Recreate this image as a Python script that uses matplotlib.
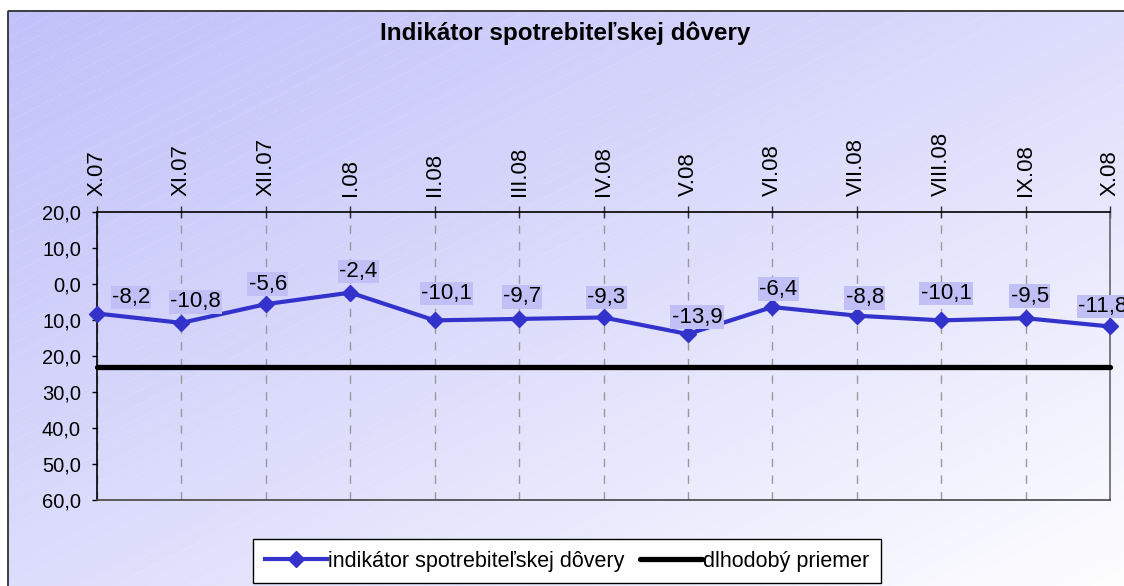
import numpy as np
import matplotlib
matplotlib.use("Agg")
import matplotlib.pyplot as plt
from matplotlib.patches import Rectangle
from matplotlib.lines import Line2D

plt.rcParams['font.family'] = ['Liberation Sans', 'DejaVu Sans']

# ---- data ----
months = ["X.07", "XI.07", "XII.07", "I.08", "II.08", "III.08", "IV.08",
          "V.08", "VI.08", "VII.08", "VIII.08", "IX.08", "X.08"]
indicator = [-8.2, -10.8, -5.6, -2.4, -10.1, -9.7, -9.3, -13.9, -6.4, -8.8, -10.1, -9.5, -11.8]
long_term_avg = -23.0
title = "Indikátor spotrebiteľskej dôvery"
series_label = "indikátor spotrebiteľskej dôvery"
avg_label = "dlhodobý priemer"

# label offsets (pixels) for data labels, layout only
lab_dx = [34, 14, 2, 8, 12, 3, 3, 9, 6, 8, 5, 4, -7]
lab_dy = [16, 21, 20, 21, 27, 22, 20, 17, 18, 18, 27, 22, 20]

W, H = 1124, 586
fig = plt.figure(figsize=(W / 100, H / 100), dpi=100)
fig.patch.set_facecolor('white')

# ---- background gradient with diagonal stripes ----
bg = fig.add_axes([7 / W, 0, 1 - 7 / W, 1 - 10 / H])
bg.axis('off')
gx, gy = np.meshgrid(np.linspace(0, 1, 300), np.linspace(0, 1, 160))
t = np.clip((gx * 0.5 + gy * 0.5), 0, 1) ** 1.15
c0 = np.array([194, 194, 250]) / 255
c1 = np.array([254, 254, 255]) / 255
img = c0[None, None, :] * (1 - t[..., None]) + c1[None, None, :] * t[..., None]
bg.imshow(img, extent=[0, W - 7, H - 10, 0], aspect='auto', zorder=0, interpolation='bilinear')
slope = np.tan(np.radians(27))
for c in np.arange(-W * slope, H + 20, 14):
    xs = np.array([0, W])
    ys = c - xs * slope + W * slope
    bg.plot(xs, ys, color='white', lw=0.5, ls=(0, (4, 3)), alpha=0.22, zorder=1)
bg.set_xlim(0, W - 7)
bg.set_ylim(H - 10, 0)
bg.add_patch(Rectangle((0.5, 0.5), W + 50, H + 50, fill=False, ec='#333333', lw=1.3, zorder=2))

# ---- main axes ----
left, right, top, bottom = 97, 1110, 212, 500
ax = fig.add_axes([left / W, 1 - bottom / H, (right - left) / W, (bottom - top) / H])
ax.patch.set_alpha(0)
x = np.arange(len(months))
ax.set_xlim(0, len(months) - 1)
ax.set_ylim(-60, 20)

ax.axhline(long_term_avg, color='black', lw=3.8, solid_capstyle='round', zorder=3, clip_on=False)
ax.plot(x, indicator, color='#3333cc', lw=3, marker='D', ms=8, mec='#3333cc', mfc='#3333cc',
        zorder=4, clip_on=False)

for i, v in enumerate(indicator):
    ax.annotate(f"{v:.1f}".replace('.', ','), xy=(x[i], v),
                xytext=(lab_dx[i] * 0.72, lab_dy[i] * 0.72), textcoords='offset points',
                ha='center', va='center', fontsize=16, color='black', zorder=6,
                annotation_clip=False,
                bbox=dict(boxstyle='square,pad=0.06', fc='#c0c0f6', ec='none'))

ax.set_yticks(np.arange(-60, 21, 10))
ax.set_yticklabels([f"{abs(v):.1f}".replace('.', ',') for v in np.arange(-60, 21, 10)])
ax.set_xticks(x)
ax.set_xticklabels(months, rotation=90)
ax.xaxis.tick_top()
ax.tick_params(axis='x', direction='inout', length=8.6, width=1, pad=7, labelsize=16, color='#333333')
ax.tick_params(axis='y', direction='out', length=3.6, width=1, pad=8, labelsize=14.5)
for lbl in ax.get_xticklabels():
    lbl.set_va('bottom')

ax.grid(axis='x', color='#999999', lw=1, ls=(0, (6, 6)))
ax.spines['top'].set_color('black')
ax.spines['left'].set_color('black')
ax.spines['bottom'].set_color('#444444')
ax.spines['right'].set_color('#666666')
for s in ax.spines.values():
    s.set_linewidth(1.2)

fig.text(565 / W, 1 - 33 / H, title, ha='center', va='center', fontsize=17.5, fontweight='bold')

handles = [Line2D([], [], color='#3333cc', lw=3, marker='D', ms=8),
           Line2D([], [], color='black', lw=3.8, solid_capstyle='round')]
leg = fig.legend(handles, [series_label, avg_label], loc='center', bbox_to_anchor=(567 / W, 1 - 561 / H),
                 ncol=2, fontsize=15.5, frameon=True, fancybox=False, edgecolor='black',
                 handlelength=2.9, handletextpad=0.05, columnspacing=0.7, borderpad=0.55,
                 borderaxespad=0)
leg.get_frame().set_linewidth(1)
leg.get_frame().set_facecolor('white')
leg.get_frame().set_alpha(1)

fig.savefig("out.png", dpi=100)
